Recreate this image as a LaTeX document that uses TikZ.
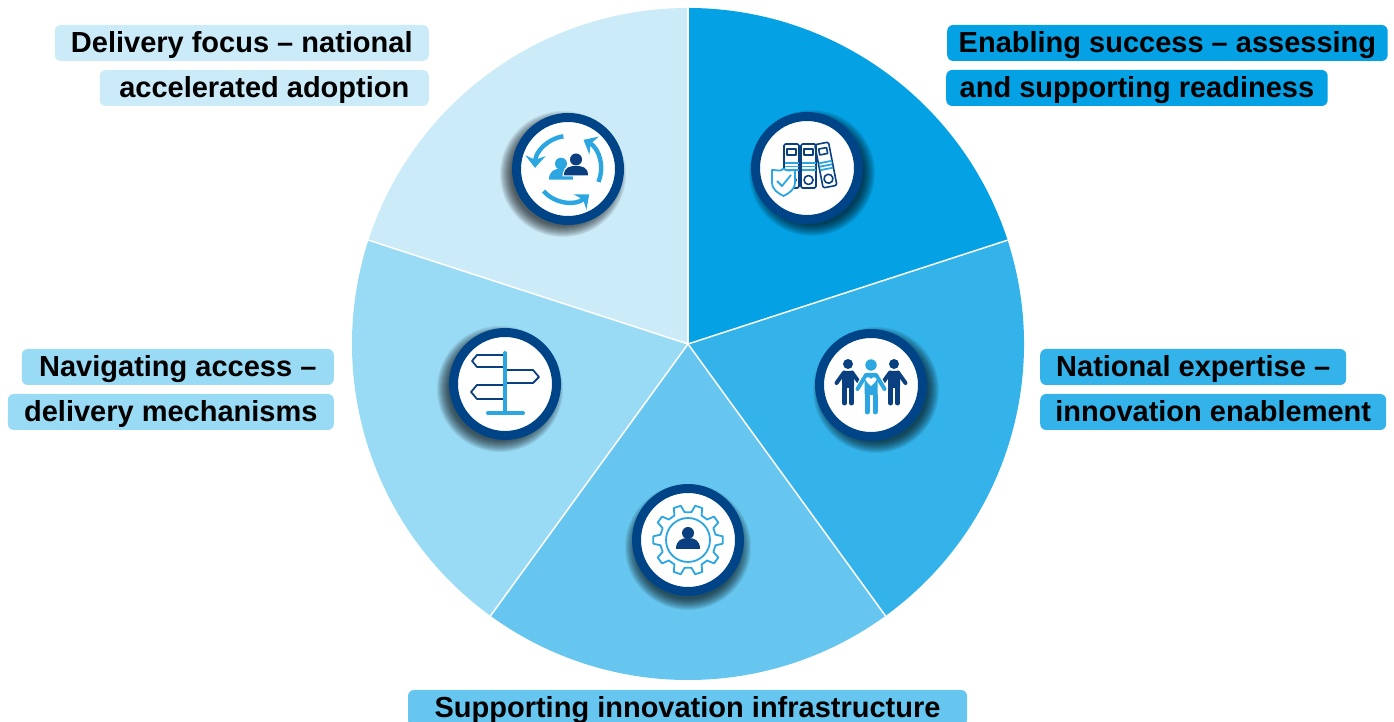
\documentclass[tikz,border=0pt]{standalone}
\usepackage{fontspec}
\setmainfont{Liberation Sans}
\usetikzlibrary{arrows.meta}
\definecolor{wedgeA}{HTML}{04A2E5}
\definecolor{wedgeB}{HTML}{33B3EA}
\definecolor{wedgeC}{HTML}{66C6EF}
\definecolor{wedgeD}{HTML}{99DAF5}
\definecolor{wedgeE}{HTML}{CCEBF9}
\definecolor{ringblue}{HTML}{004488}
\definecolor{darkicon}{HTML}{0A3F80}
\definecolor{lightpart}{HTML}{2BA6E1}
\tikzset{
  tag/.style = {rounded corners = 6pt, inner xsep = 15pt, inner ysep = 0pt, text height = 24pt, text depth = 4pt, minimum height = 36pt, font = \fontsize{29}{34}\selectfont\bfseries, text = black},
  ring/.style = {circle, minimum size = 103pt, inner sep = 0pt, fill = white, draw = ringblue, line width = 9pt},
  outline/.style = {line width = 1.6pt, draw = darkicon, line join = round},
  accent/.style = {line width = 1.8pt, draw = lightpart, line join = round},
  turn/.style = {lightpart, line width = 4.4pt, -{Stealth[length = 12pt, width = 20pt]}},
  bust/.pic = {
    \fill (0,7) circle (6);
    \fill (-12,-9) .. controls (-12,0) and (-6,2) .. (0,2) .. controls (6,2) and (12,0) .. (12,-9) -- cycle;
  },
  figure/.pic = {
    \fill (0,21) circle (5);
    \fill[rounded corners = 1.5pt] (-6,14) rectangle (6,-3);
    \draw[line width = 5pt, line cap = round] (-3.5,-3) -- (-3.5,-18) (3.5,-3) -- (3.5,-18);
    \draw[line width = 4pt, line cap = round] (-4,12.5) -- (-11.5,2) (4,12.5) -- (11.5,2);
  },
}
\begin{document}
\begin{tikzpicture}[x = 1pt, y = 1pt]
  \useasboundingbox (0,0) rectangle (1394,722);
  \clip (0,0) rectangle (1394,722);
  \coordinate (hub) at (688,378);
  % wedges
  \foreach \start/\col in {90/wedgeA, 18/wedgeB, -54/wedgeC, -126/wedgeD, -198/wedgeE}
    \fill[\col] (hub) -- +(\start:336) arc (\start:\start-72:336) -- cycle;
  \foreach \start in {90, 18, -54, -126, -198}
    \draw[white, line width = 1.5pt] (hub) -- +(\start:336);
  % icon discs
  \foreach \name/\x/\y/\dx/\dy in {binder/807/554/5/-5, cycle/568/553/-5/-5, people/871/337/5/-5, gear/688/182/0/-7, sign/505/338/-5/-5} {
    \foreach \r in {52,...,63}
      \fill[black, opacity = 0.07] (\x+\dx,\y+\dy) circle (\r);
    \node[ring] (\name) at (\x,\y) {};
  }
  % binders
  \begin{scope}[shift = {(binder.center)}]
    \foreach \bx in {-15.5, 1.5} {
      \draw[outline, rounded corners = 1.5pt] (\bx-7.5,24) rectangle (\bx+7.5,-20);
      \draw[outline] (\bx-4.5,19) rectangle (\bx+4.5,13);
      \draw[outline] (\bx,-12) circle (4.5);
      \draw[accent] (\bx-7,5) -- (\bx+7,5) (\bx-7,1.5) -- (\bx+7,1.5) (\bx-7,-2) -- (\bx+7,-2);
    }
    \begin{scope}[shift = {(19,2)}, rotate = 11]
      \draw[outline, rounded corners = 1.5pt] (-7,23) rectangle (7,-21);
      \draw[outline] (-4,18) rectangle (4,12);
      \draw[outline] (0,-13) circle (4.5);
      \draw[accent] (-6.5,4) -- (6.5,4) (-6.5,0.5) -- (6.5,0.5) (-6.5,-3) -- (6.5,-3);
    \end{scope}
    \draw[accent, fill = white] (-35,-2) .. controls (-29,-2) and (-26,-4) .. (-23.5,-0.5) .. controls (-20,-4) and (-17,-2) .. (-12,-2) -- (-12,-14) .. controls (-12,-22) and (-18,-25) .. (-23.5,-28) .. controls (-29,-25) and (-35,-22) .. (-35,-14) -- cycle;
    \draw[accent] (-30,-13) -- (-25,-18) -- (-16,-7);
  \end{scope}
  % cycle arrows
  \begin{scope}[shift = {(cycle.center)}]
    \draw[turn] (98:33) arc (98:178:33);
    \draw[turn] (-23:33) arc (-23:62:33);
    \draw[turn] (222:33) arc (222:310:33);
    \pic[lightpart, fill = lightpart] at (-7,-1.7) {bust};
    \fill[white] (-5.5,-7.5) .. controls (-5,3) and (2,4.5) .. (8,4.5) .. controls (14,4.5) and (21.5,3) .. (21.5,-7.5) -- cycle;
    \fill[darkicon] (8,9.5) circle (6);
    \fill[darkicon] (-4,-6.5) .. controls (-4,2) and (2,3) .. (8,3) .. controls (14,3) and (20,2) .. (20,-6.5) -- cycle;
  \end{scope}
  % three figures
  \begin{scope}[shift = {(people.center)}]
    \pic[darkicon, fill = darkicon] at (-23,0) {figure};
    \pic[darkicon, fill = darkicon] at (23,0) {figure};
    \draw[white, line width = 6.5pt, line cap = round] (-5,10) -- (-13.5,-4) (5,10) -- (13.5,-4);
    \fill[lightpart] (0,20) circle (5.7);
    \fill[lightpart, rounded corners = 1.5pt] (-6.5,12) rectangle (6.5,-10);
    \draw[lightpart, line width = 5pt, line cap = round] (-4,-10) -- (-4,-27) (4,-10) -- (4,-27);
    \draw[lightpart, line width = 4pt, line cap = round] (-5,10) -- (-13.5,-4) (5,10) -- (13.5,-4);
    \fill[white] (0,-1) .. controls (-3,2) and (-5.5,3.5) .. (-5.5,5.5) .. controls (-5.5,8) and (-1.5,8.5) .. (0,6) .. controls (1.5,8.5) and (5.5,8) .. (5.5,5.5) .. controls (5.5,3.5) and (3,2) .. (0,-1) -- cycle;
  \end{scope}
  % gear
  \begin{scope}[shift = {(gear.center)}]
    \draw[accent] (-11:28) \foreach \t in {0,36,...,324} { -- (\t-11:28) -- (\t-6:35) -- (\t+6:35) -- (\t+11:28) } -- cycle;
    \draw[accent] (0,0) circle (22);
    \pic[darkicon, fill = darkicon] at (0,0) {bust};
  \end{scope}
  % signpost
  \begin{scope}[shift = {(sign.center)}]
    \draw[outline, line width = 1.8pt] (-1,29) -- (-28,29) -- (-33,23) -- (-28,17) -- (-1,17);
    \draw[outline, line width = 1.8pt] (1,14) -- (28,14) -- (34,7) -- (28,1) -- (1,1);
    \draw[outline, line width = 1.8pt] (-1,-1) -- (-28,-1) -- (-34,-8) -- (-28,-15) -- (-1,-15);
    \draw[lightpart, line width = 4pt, line cap = round] (0,31) -- (0,-29);
    \draw[lightpart, line width = 4pt, line cap = round] (-17,-29) -- (18,-29);
  \end{scope}
  % labels
  \node[tag, fill = wedgeE, anchor = east, minimum width = 374pt] (focus) at (429,679) {Delivery focus – national};
  \node[tag, fill = wedgeE, anchor = east, minimum width = 329pt] (adoption) at (429,634) {accelerated adoption};
  \node[tag, fill = wedgeA, anchor = west, inner xsep = 11.5pt] (success) at (947,679) {Enabling success – assessing};
  \node[tag, fill = wedgeA, anchor = west, inner xsep = 13.5pt] (readiness) at (946,634) {and supporting readiness};
  \node[tag, fill = wedgeB, anchor = west, minimum width = 306pt] (expertise) at (1040,355) {National expertise –};
  \node[tag, fill = wedgeB, anchor = west, minimum width = 346pt] (enablement) at (1040,310) {innovation enablement};
  \node[tag, fill = wedgeD, anchor = east, minimum width = 312pt] (access) at (334,355) {Navigating access –};
  \node[tag, fill = wedgeD, anchor = east, minimum width = 326pt] (mechanisms) at (334,310) {delivery mechanisms};
  \node[tag, fill = wedgeC, minimum width = 559pt] (infrastructure) at (687.5,14) {Supporting innovation infrastructure};
\end{tikzpicture}
\end{document}
